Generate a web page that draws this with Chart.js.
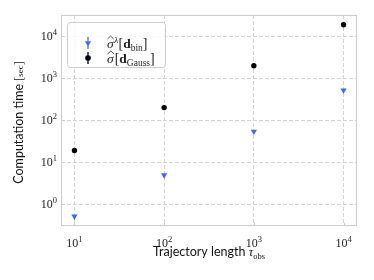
<!DOCTYPE html>
<html>
<head>
<meta charset="utf-8">
<script src="https://cdn.jsdelivr.net/npm/chart.js@4"></script>
<style>
  html, body { margin: 0; padding: 0; background: #fff; }
  #wrap { width: 374px; height: 280px; }
</style>
</head>
<body>
<div id="wrap"><canvas id="chart" width="374" height="280"></canvas></div>
<script>
"use strict";

// data
var trajLengths = [10, 100, 1000, 10000];
var timeBin = [0.51, 4.9, 54, 520];
var timeGauss = [19, 200, 2000, 19000];

// tick positions and their labels (10^n)
var xTicks = [10, 100, 1000, 10000];
var xTickExp = ["1", "2", "3", "4"];
var yTicks = [1, 10, 100, 1000, 10000];
var yTickExp = ["0", "1", "2", "3", "4"];

var blue = "#4169e1";
var gridColor = "#d3d3d3";
var frameColor = "#cccccc";
var serif = "'Liberation Serif', 'DejaVu Serif', serif";
var sans = "Lato, 'Open Sans', sans-serif";

function toPoints(xs, ys) {
    return xs.map(function (x, i) { return { x: x, y: ys[i] }; });
}

/* draws a list of text runs one after the other, each with its own font and
   vertical shift. align is 'left', 'center' or 'right' */
function drawRuns(ctx, runs, x, y, align) {
    var total = 0;
    runs.forEach(function (r) {
        ctx.font = r.font;
        r.w = ctx.measureText(r.text).width + (r.gap || 0);
        total += r.w;
    });
    var cx = x;
    if (align === "center") cx = x - total / 2;
    if (align === "right") cx = x - total;
    runs.forEach(function (r) {
        ctx.font = r.font;
        ctx.fillText(r.text, cx, y + (r.dy || 0));
        if (r.hat) {
            ctx.save();
            ctx.lineWidth = 0.8;
            ctx.strokeStyle = ctx.fillStyle;
            ctx.beginPath();
            ctx.moveTo(cx + 0.5, y - 9);
            ctx.lineTo(cx + r.w / 2, y - 12);
            ctx.lineTo(cx + r.w - 0.5, y - 9);
            ctx.stroke();
            ctx.restore();
        }
        cx += r.w;
    });
}

function powerRuns(exp) {
    return [
        { text: "10", font: "12px " + serif },
        { text: exp, font: "8.5px " + serif, dy: -5 }
    ];
}

var decorations = {
    id: "decorations",
    afterDraw: function (chart) {
        var ctx = chart.ctx;
        var a = chart.chartArea;
        var xs = chart.scales.x, ys = chart.scales.y;
        ctx.save();

        // frame
        ctx.strokeStyle = frameColor;
        ctx.lineWidth = 1;
        ctx.strokeRect(Math.round(a.left) + 0.5, Math.round(a.top) + 0.5,
            Math.round(a.right - a.left) - 1, Math.round(a.bottom - a.top) - 1);

        // inward tick marks
        ctx.beginPath();
        xTicks.forEach(function (v) {
            var px = Math.round(xs.getPixelForValue(v)) + 0.5;
            ctx.moveTo(px, a.bottom);
            ctx.lineTo(px, a.bottom - 3.5);
        });
        yTicks.forEach(function (v) {
            var py = Math.round(ys.getPixelForValue(v)) + 0.5;
            ctx.moveTo(a.left, py);
            ctx.lineTo(a.left + 3.5, py);
        });
        ctx.stroke();

        // tick labels
        ctx.fillStyle = "#222";
        ctx.textBaseline = "alphabetic";
        xTicks.forEach(function (v, i) {
            drawRuns(ctx, powerRuns(xTickExp[i]), xs.getPixelForValue(v), a.bottom + 21, "center");
        });
        yTicks.forEach(function (v, i) {
            drawRuns(ctx, powerRuns(yTickExp[i]), a.left - 4, ys.getPixelForValue(v) + 4, "right");
        });

        // axis titles
        ctx.fillStyle = "#111";
        drawRuns(ctx, [
            { text: "Trajectory length ", font: "12.5px " + sans },
            { text: "\u03c4", font: "italic 12.5px " + serif },
            { text: "obs", font: "8.5px " + serif, dy: 3 }
        ], (a.left + a.right) / 2, 256, "center");

        ctx.save();
        ctx.translate(23, (a.top + a.bottom) / 2 + 2);
        ctx.rotate(-Math.PI / 2);
        drawRuns(ctx, [
            { text: "Computation time ", font: "12.5px " + sans },
            { text: "[", font: "12px " + serif },
            { text: "sec", font: "9px " + serif },
            { text: "]", font: "12px " + serif }
        ], 0, 0, "center");
        ctx.restore();

        // legend
        var lx = 67.5, ly = 22.5, lw = 98, lh = 45;
        ctx.fillStyle = "rgba(255,255,255,0.85)";
        ctx.strokeStyle = frameColor;
        ctx.beginPath();
        ctx.roundRect(lx, ly, lw, lh, 3);
        ctx.fill();
        ctx.stroke();

        var mx = 88;
        var rows = [
            { y: 43, ds: chart.data.datasets[0] },
            { y: 58, ds: chart.data.datasets[1] }
        ];
        rows.forEach(function (row) {
            var ds = row.ds;
            ctx.strokeStyle = ds.borderColor;
            ctx.lineWidth = 1.3;
            ctx.beginPath();
            ctx.moveTo(mx, row.y - 6);
            ctx.lineTo(mx, row.y + 6);
            ctx.stroke();
            Chart.helpers.drawPoint(ctx, {
                pointStyle: ds.pointStyle,
                radius: ds.pointRadius,
                rotation: ds.rotation || 0,
                borderWidth: 0
            }, mx, row.y);
            ctx.fillStyle = ds.backgroundColor;
            ctx.fill();
        });

        ctx.fillStyle = "#222";
        var tx = 107;
        drawRuns(ctx, [
            { text: "\u03c3", font: "italic 13.5px " + serif, hat: true, gap: 0.5 },
            { text: "\u03bb", font: "italic 9px " + serif, dy: -5.5, gap: 0.5 },
            { text: "[", font: "14px " + serif },
            { text: "d", font: "bold 13.5px " + serif },
            { text: "bin", font: "9.5px " + serif, dy: 3 },
            { text: "]", font: "14px " + serif }
        ], tx, 48, "left");
        drawRuns(ctx, [
            { text: "\u03c3", font: "italic 13.5px " + serif, hat: true, gap: 1 },
            { text: "[", font: "14px " + serif },
            { text: "d", font: "bold 13.5px " + serif },
            { text: "Gauss", font: "9.5px " + serif, dy: 3 },
            { text: "]", font: "14px " + serif }
        ], tx, 63, "left");

        ctx.restore();
    }
};

var logAxis = function (min, max, ticks, fitKey, fitSize) {
    var opts = {
        type: "logarithmic",
        min: min,
        max: max,
        ticks: { display: false },
        grid: { color: gridColor, lineWidth: 1, drawTicks: false },
        border: { display: false, dash: [4, 2] },
        afterBuildTicks: function (scale) {
            scale.ticks = ticks.map(function (v) { return { value: v }; });
        },
        afterFit: function (scale) {
            scale[fitKey] = fitSize;
        }
    };
    return opts;
};

new Chart(document.getElementById("chart"), {
    type: "scatter",
    data: {
        datasets: [{
            label: "bin",
            data: toPoints(trajLengths, timeBin),
            pointStyle: "triangle",
            rotation: 180,
            pointRadius: 3.6,
            backgroundColor: blue,
            borderColor: blue,
            borderWidth: 0
        }, {
            label: "Gauss",
            data: toPoints(trajLengths, timeGauss),
            pointStyle: "circle",
            pointRadius: 2.7,
            backgroundColor: "#000",
            borderColor: "#000",
            borderWidth: 0
        }]
    },
    options: {
        responsive: false,
        animation: false,
        layout: { padding: { top: 15, right: 17, left: 0, bottom: 0 } },
        scales: {
            x: logAxis(Math.pow(10, 0.85), Math.pow(10, 4.15), xTicks, "height", 54),
            y: logAxis(Math.pow(10, -0.52), Math.pow(10, 4.51), yTicks, "width", 61)
        },
        plugins: {
            legend: { display: false },
            tooltip: { enabled: false }
        }
    },
    plugins: [decorations]
});
</script>
</body>
</html>
